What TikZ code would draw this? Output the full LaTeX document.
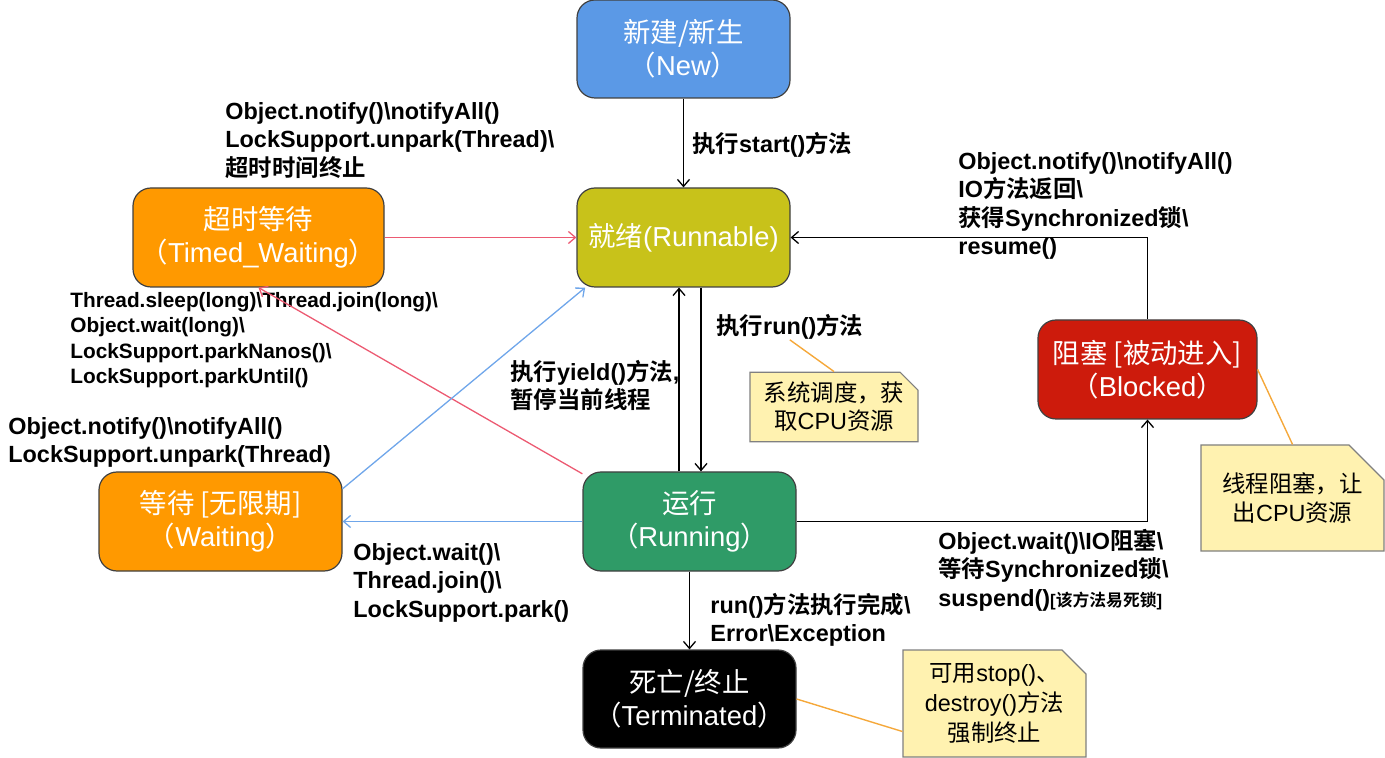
\documentclass[tikz,border=0pt]{standalone}
\usepackage{fontspec}
\setmainfont{Liberation Sans}
\newfontfamily\zh{Noto Sans CJK SC}[BoldFont={Noto Sans CJK SC Bold}]
\usetikzlibrary{arrows.meta,shapes.misc}
\definecolor{newblue}{HTML}{5B99E6}
\definecolor{readyolive}{HTML}{C8C21A}
\definecolor{waitorange}{HTML}{FF9900}
\definecolor{rungreen}{HTML}{2F9B67}
\definecolor{blockred}{HTML}{CD1B0C}
\definecolor{redline}{HTML}{EC5A72}
\definecolor{blueline}{HTML}{6FA6EA}
\definecolor{notecol}{HTML}{F5A83A}
\definecolor{notefill}{HTML}{FFF2B0}
\definecolor{noteborder}{HTML}{808080}
\newcommand{\bs}{\textbackslash}
\tikzset{
  thread/.style={draw=black!75, line width=0.6pt, rounded corners=9pt, text=white, align=center,
    font=\fontsize{13.7}{16.5}\selectfont, inner sep=0pt, minimum width=106.5pt, minimum height=49.5pt},
  arr/.style={draw=black, line width=0.65pt, -{Straight Barb[length=3.5pt,width=6pt]}},
  rarr/.style={arr, draw=redline},
  barr/.style={arr, draw=blueline},
  lbl/.style={anchor=north west, inner sep=0pt, align=left, font=\bfseries\fontsize{11.7}{14.2}\selectfont},
  slbl/.style={lbl, font=\bfseries\fontsize{10.4}{12.65}\selectfont},
  note/.style={chamfered rectangle, chamfered rectangle corners=north east, fill=notefill,
    draw=noteborder, line width=0.6pt, inner sep=0pt, align=center, font=\fontsize{11.7}{14.5}\selectfont},
  noteline/.style={draw=notecol, line width=0.7pt}
}
\begin{document}
\begin{tikzpicture}[x=0.5pt,y=-0.5pt]
  \useasboundingbox (0,0) rectangle (1385,758);

  % thread states
  \node[thread, fill=newblue, minimum height=49pt] (New) at (683.5,49) {{\zh 新建/新生}\\{\zh （}New{\zh ）}};
  \node[thread, fill=readyolive] (Runnable) at (683.5,237.5) {{\zh 就绪}(Runnable)};
  \node[thread, fill=waitorange, minimum width=125.5pt] (Timed) at (258.5,237.5) {{\zh 超时等待}\\{\zh （}Timed\_Waiting{\zh ）}};
  \node[thread, fill=waitorange, minimum width=121.5pt] (Waiting) at (220.5,521.5) {{\zh 等待 [无限期]}\\{\zh （}Waiting{\zh ）}};
  \node[thread, fill=rungreen] (Running) at (689.5,521.5) {{\zh 运行}\\{\zh （}Running{\zh ）}};
  \node[thread, fill=blockred, minimum width=109.5pt] (Blocked) at (1147.5,369.5) {{\zh 阻塞 [被动进入]}\\{\zh （}Blocked{\zh ）}};
  \node[thread, fill=black, minimum height=49pt] (Terminated) at (689.5,699) {{\zh 死亡/终止}\\{\zh （}Terminated{\zh ）}};

  % notes
  \node[note, minimum width=84pt, minimum height=29pt, chamfered rectangle xsep=4pt, chamfered rectangle ysep=5pt, font=\fontsize{11.7}{14}\selectfont] (N1) at (834,407) {{\zh 系统调度，获}\\{\zh 取}CPU{\zh 资源}};
  \node[note, minimum width=91.5pt, minimum height=53pt, chamfered rectangle xsep=8.5pt, chamfered rectangle ysep=9pt] (N2) at (1292.5,498) {{\zh 线程阻塞，让}\\{\zh 出}CPU{\zh 资源}};
  \node[note, minimum width=91.5pt, minimum height=53.5pt, chamfered rectangle xsep=6pt, chamfered rectangle ysep=6pt, font=\fontsize{11.7}{15}\selectfont] (N3) at (994.5,703.5) {{\zh 可用}stop(){\zh 、}\\destroy(){\zh 方法}\\{\zh 强制终止}};

  % labels
  \node[lbl] (L1) at (225,102) {Object.notify()\bs notifyAll()\\LockSupport.unpark(Thread)\bs\\{\zh 超时时间终止}};
  \node[lbl] (L2) at (692,132) {{\zh 执行}start(){\zh 方法}};
  \node[lbl] (L3) at (958,152) {Object.notify()\bs notifyAll()\\IO{\zh 方法返回}\bs\\{\zh 获得}Synchronized{\zh 锁}\bs\\resume()};
  \node[slbl] (L4) at (70,292) {Thread.sleep(long)\bs Thread.join(long)\bs\\Object.wait(long)\bs\\LockSupport.parkNanos()\bs\\LockSupport.parkUntil()};
  \node[lbl] (L5) at (716,314) {{\zh 执行}run(){\zh 方法}};
  \node[lbl] (L6) at (510,360) {{\zh 执行}yield(){\zh 方法},\\{\zh 暂停当前线程}};
  \node[lbl] (L7) at (8,417) {Object.notify()\bs notifyAll()\\LockSupport.unpark(Thread)};
  \node[lbl] (L8) at (353,543) {Object.wait()\bs\\Thread.join()\bs\\LockSupport.park()};
  \node[lbl] (L9) at (938,529) {Object.wait()\bs IO{\zh 阻塞}\bs\\{\zh 等待}Synchronized{\zh 锁}\bs\\suspend(){\fontsize{8.4}{10}\selectfont[{\zh 该方法易死锁}]}};
  \node[lbl] (L10) at (710,593) {run(){\zh 方法执行完成}\bs\\Error\bs Exception};

  % transitions
  \path ([xshift=-5.25pt]Running.north) coordinate (upfoot)
        ([xshift=5.75pt]Running.north) coordinate (downtip);
  \draw[arr] (New) -- (Runnable);
  \draw[rarr] (Timed) -- (Runnable);
  \draw[rarr] (Running.156) -- (Timed.south);
  \draw[barr] (Waiting.15) -- (Runnable.207);
  \draw[barr] (Running) -- (Waiting);
  \draw[arr] (upfoot) -- (upfoot |- Runnable.south);
  \draw[arr] (downtip |- Runnable.south) -- (downtip);
  \draw[arr] (Running.east) -| (Blocked.south);
  \draw[arr] (Blocked.north) |- (Runnable.east);
  \draw[arr] (Running) -- (Terminated);

  % note connectors
  \draw[noteline] (L5.south) -- (N1.north);
  \draw[noteline] (Blocked.east) -- (N2.north);
  \draw[noteline] (Terminated.east) -- ([yshift=-14pt]N3.west);
\end{tikzpicture}
\end{document}
